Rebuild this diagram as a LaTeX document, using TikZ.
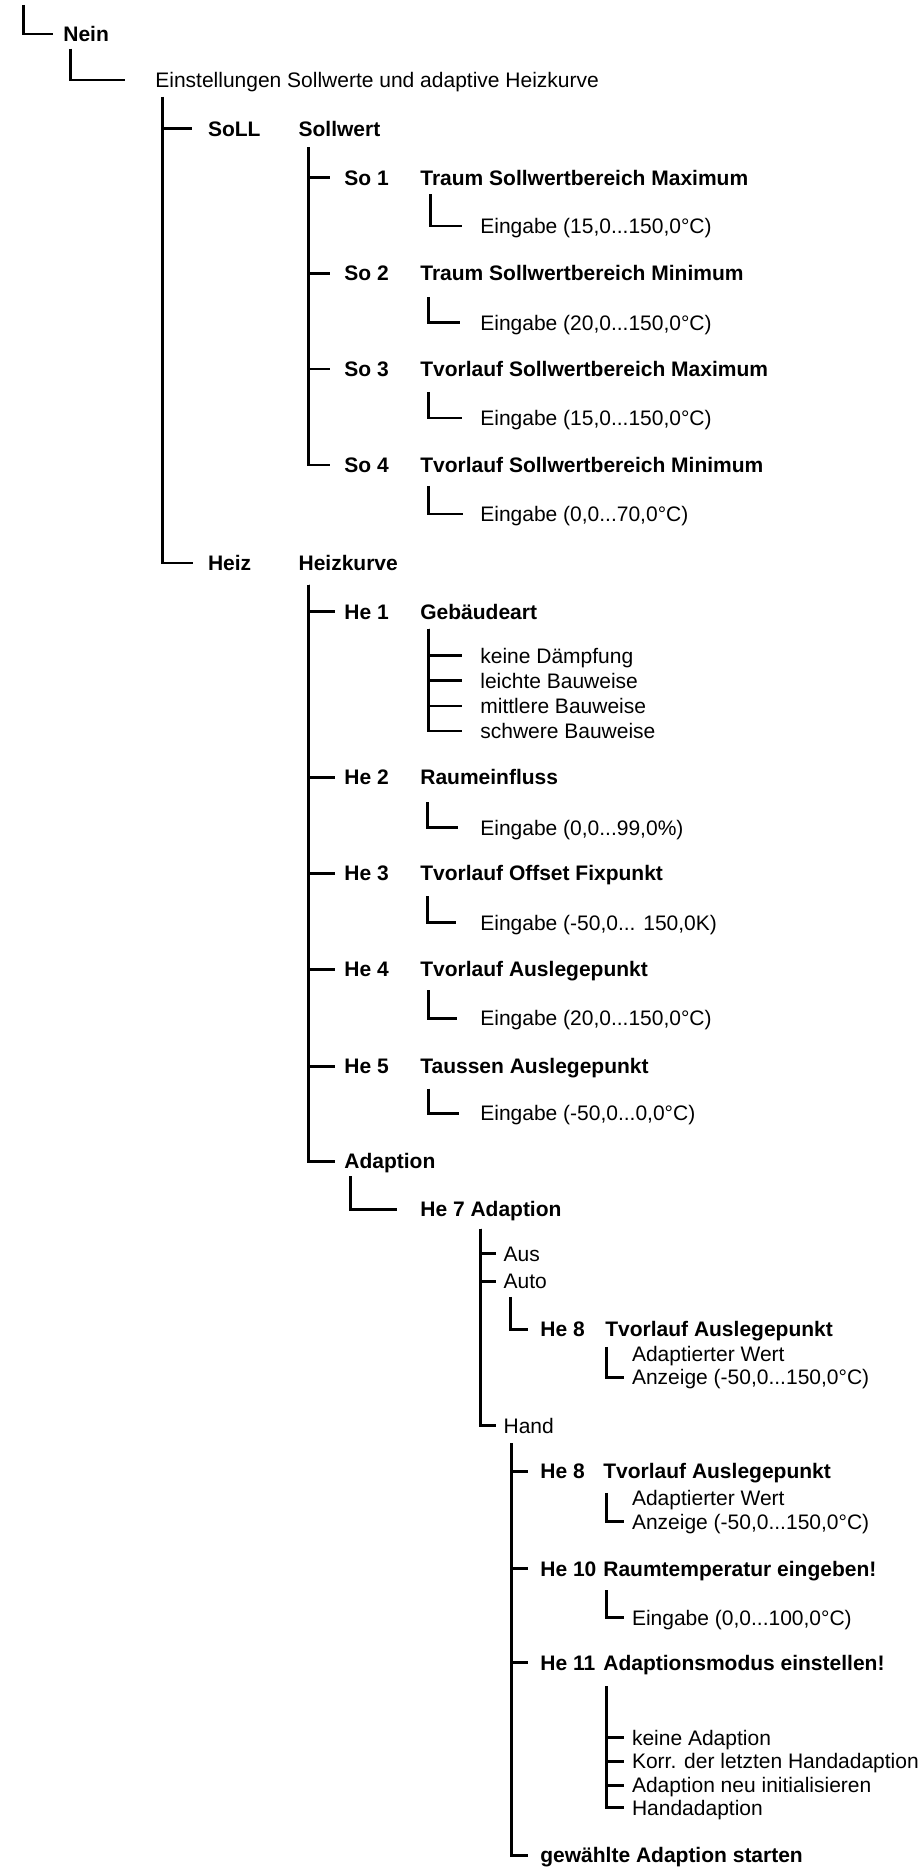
\documentclass[tikz,border=0pt]{standalone}
\usepackage{fontspec}
\setmainfont{Liberation Sans}

\begin{document}
\begin{tikzpicture}[x=0.02cm, y=-0.02cm,
	txt/.style={anchor=west, inner sep=0pt, text height=8.6pt, text depth=0pt, font=\fontsize{11.95pt}{14pt}\selectfont},
	bld/.style={txt, font=\fontsize{11.95pt}{14pt}\selectfont\bfseries},
	wire/.style={line width=1.7pt, line join=miter}]
	\useasboundingbox (0, 0) rectangle (923, 1868);
	% Texts:
	\node[bld] (nein) at (63, 34){Nein};
	\node[txt] (einst) at (155, 80){Einstellungen Sollwerte und adaptive Heizkurve};
	\node[bld] (soll) at (207.7, 128.5){SoLL};
	\node[bld] (sollwert) at (298.3, 128.5){Sollwert};
	\node[bld] (so1) at (344, 177.5){So 1};
	\node[bld] (so1t) at (420, 177.5){Traum Sollwertbereich Maximum};
	\node[txt] (so1e) at (480, 226){Eingabe (15,0...150,0°C)};
	\node[bld] (so2) at (344, 273.3){So 2};
	\node[bld] (so2t) at (420, 273.3){Traum Sollwertbereich Minimum};
	\node[txt] (so2e) at (480, 322.5){Eingabe (20,0...150,0°C)};
	\node[bld] (so3) at (344, 369){So 3};
	\node[bld] (so3t) at (420, 369){Tvorlauf Sollwertbereich Maximum};
	\node[txt] (so3e) at (480, 418){Eingabe (15,0...150,0°C)};
	\node[bld] (so4) at (344, 465){So 4};
	\node[bld] (so4t) at (420, 465){Tvorlauf Sollwertbereich Minimum};
	\node[txt] (so4e) at (480, 514){Eingabe (0,0...70,0°C)};
	\node[bld] (heiz) at (207.7, 563){Heiz};
	\node[bld] (heizk) at (298.3, 563){Heizkurve};
	\node[bld] (he1) at (344, 611.7){He 1};
	\node[bld] (he1t) at (420, 611.7){Gebäudeart};
	\node[txt] (geb1) at (480, 655.5){keine Dämpfung};
	\node[txt] (geb2) at (480, 680.5){leichte Bauweise};
	\node[txt] (geb3) at (480, 706){mittlere Bauweise};
	\node[txt] (geb4) at (480, 731){schwere Bauweise};
	\node[bld] (he2) at (344, 777.3){He 2};
	\node[bld] (he2t) at (420, 777.3){Raumeinfluss};
	\node[txt] (he2e) at (480, 827.5){Eingabe (0,0...99,0\%)};
	\node[bld] (he3) at (344, 873.3){He 3};
	\node[bld] (he3t) at (420, 873.3){Tvorlauf Offset Fixpunkt};
	\node[txt] (he3e) at (480, 922.5){Eingabe (-50,0... 150,0K)};
	\node[bld] (he4) at (344, 969.3){He 4};
	\node[bld] (he4t) at (420, 969.3){Tvorlauf Auslegepunkt};
	\node[txt] (he4e) at (480, 1018.3){Eingabe (20,0...150,0°C)};
	\node[bld] (he5) at (344, 1066){He 5};
	\node[bld] (he5t) at (420, 1066){Taussen Auslegepunkt};
	\node[txt] (he5e) at (480, 1113.3){Eingabe (-50,0...0,0°C)};
	\node[bld] (adapt) at (344, 1161){Adaption};
	\node[bld] (he7) at (420, 1209.3){He 7 Adaption};
	\node[txt] (aus) at (503.3, 1253.5){Aus};
	\node[txt] (auto) at (503.3, 1281){Auto};
	\node[bld] (he8a) at (540, 1329){He 8};
	\node[bld] (he8at) at (605, 1329){Tvorlauf Auslegepunkt};
	\node[txt] (adw1) at (631.7, 1353.5){Adaptierter Wert};
	\node[txt] (anz1) at (631.7, 1377){Anzeige (-50,0...150,0°C)};
	\node[txt] (hand) at (503.3, 1425.5){Hand};
	\node[bld] (he8b) at (540, 1471){He 8};
	\node[bld] (he8bt) at (603, 1471){Tvorlauf Auslegepunkt};
	\node[txt] (adw2) at (631.7, 1497.5){Adaptierter Wert};
	\node[txt] (anz2) at (631.7, 1521.5){Anzeige (-50,0...150,0°C)};
	\node[bld] (he10) at (540, 1568.5){He 10};
	\node[bld] (he10t) at (603, 1568.5){Raumtemperatur eingeben!};
	\node[txt] (he10e) at (631.7, 1617.5){Eingabe (0,0...100,0°C)};
	\node[bld] (he11) at (540, 1662.7){He 11};
	\node[bld] (he11t) at (603, 1662.7){Adaptionsmodus einstellen!};
	\node[txt] (mod1) at (631.7, 1737.7){keine Adaption};
	\node[txt] (mod2) at (631.7, 1761){Korr. der letzten Handadaption};
	\node[txt] (mod3) at (631.7, 1785){Adaption neu initialisieren};
	\node[txt] (mod4) at (631.7, 1807.5){Handadaption};
	\node[bld] (start) at (540, 1855){gewählte Adaption starten};
	% Wires:
	\coordinate (top) at (23.3, 5);
	\draw[wire] (top) |- ([shift={(-10,0)}]nein.west);
	\draw[wire] ([shift={(7.7,6.7)}]nein.south west) |- ([shift={(-30,0)}]einst.west);
	\draw[wire] ([shift={(7.7,9)}]einst.south west) |- ([shift={(-16,0)}]soll.west);
	\draw[wire] ([shift={(7.7,9)}]einst.south west) |- ([shift={(-14.5,0)}]heiz.west);
	\draw[wire] ([shift={(10,11)}]sollwert.south west) |- ([shift={(-14,0)}]so1.west);
	\draw[wire] ([shift={(10,11)}]sollwert.south west) |- ([shift={(-14,0)}]so2.west);
	\draw[wire] ([shift={(10,11)}]sollwert.south west) |- ([shift={(-14,0)}]so3.west);
	\draw[wire] ([shift={(10,11)}]sollwert.south west) |- ([shift={(-14,0)}]so4.west);
	\draw[wire] ([shift={(10,9)}]so1t.south west) |- ([shift={(-18,0)}]so1e.west);
	\draw[wire] ([shift={(8,16)}]so2t.south west) |- ([shift={(-20,0)}]so2e.west);
	\draw[wire] ([shift={(8,15)}]so3t.south west) |- ([shift={(-18,0)}]so3e.west);
	\draw[wire] ([shift={(8,13)}]so4t.south west) |- ([shift={(-17,0)}]so4e.west);
	\draw[wire] ([shift={(10,13.7)}]heizk.south west) |- ([shift={(-9,0)}]he1.west);
	\draw[wire] ([shift={(10,13.7)}]heizk.south west) |- ([shift={(-9,0)}]he2.west);
	\draw[wire] ([shift={(10,13.7)}]heizk.south west) |- ([shift={(-9,0)}]he3.west);
	\draw[wire] ([shift={(10,13.7)}]heizk.south west) |- ([shift={(-9,0)}]he4.west);
	\draw[wire] ([shift={(10,13.7)}]heizk.south west) |- ([shift={(-9,0)}]he5.west);
	\draw[wire] ([shift={(10,13.7)}]heizk.south west) |- ([shift={(-9,0)}]adapt.west);
	\draw[wire] ([shift={(8.3,9)}]he1t.south west) |- ([shift={(-18.3,0)}]geb1.west);
	\draw[wire] ([shift={(8.3,9)}]he1t.south west) |- ([shift={(-18.3,0)}]geb2.west);
	\draw[wire] ([shift={(8.3,9)}]he1t.south west) |- ([shift={(-18.3,0)}]geb3.west);
	\draw[wire] ([shift={(8.3,9)}]he1t.south west) |- ([shift={(-18.3,0)}]geb4.west);
	\draw[wire] ([shift={(7.7,17)}]he2t.south west) |- ([shift={(-22,0)}]he2e.west);
	\draw[wire] ([shift={(7.7,15)}]he3t.south west) |- ([shift={(-24,0)}]he3e.west);
	\draw[wire] ([shift={(8.3,13)}]he4t.south west) |- ([shift={(-23,0)}]he4e.west);
	\draw[wire] ([shift={(8.3,14.7)}]he5t.south west) |- ([shift={(-20.7,0)}]he5e.west);
	\draw[wire] ([shift={(6.7,7.4)}]adapt.south west) |- ([shift={(-23.3,0)}]he7.west);
	\draw[wire] ([shift={(60.7,11.4)}]he7.south west) |- ([shift={(-7.6,0)}]aus.west);
	\draw[wire] ([shift={(60.7,11.4)}]he7.south west) |- ([shift={(-7.6,0)}]auto.west);
	\draw[wire] ([shift={(60.7,11.4)}]he7.south west) |- ([shift={(-7.6,0)}]hand.west);
	\draw[wire] ([shift={(6.7,8)}]auto.south west) |- ([shift={(-11.7,0)}]he8a.west);
	\draw[wire] ([shift={(1,10)}]he8at.south west) |- ([shift={(-7.7,0)}]anz1.west);
	\draw[wire] ([shift={(7.7,9.7)}]hand.south west) |- ([shift={(-11.7,0)}]he8b.west);
	\draw[wire] ([shift={(7.7,9.7)}]hand.south west) |- ([shift={(-11.7,0)}]he10.west);
	\draw[wire] ([shift={(7.7,9.7)}]hand.south west) |- ([shift={(-11.7,0)}]he11.west);
	\draw[wire] ([shift={(7.7,9.7)}]hand.south west) |- ([shift={(-11.7,0)}]start.west);
	\draw[wire] ([shift={(3,14)}]he8bt.south west) |- ([shift={(-7.7,0)}]anz2.west);
	\draw[wire] ([shift={(3,14)}]he10t.south west) |- ([shift={(-7.7,0)}]he10e.west);
	\draw[wire] ([shift={(3,15.7)}]he11t.south west) |- ([shift={(-7.7,0)}]mod1.west);
	\draw[wire] ([shift={(3,15.7)}]he11t.south west) |- ([shift={(-7.7,0)}]mod2.west);
	\draw[wire] ([shift={(3,15.7)}]he11t.south west) |- ([shift={(-7.7,0)}]mod3.west);
	\draw[wire] ([shift={(3,15.7)}]he11t.south west) |- ([shift={(-7.7,0)}]mod4.west);
\end{tikzpicture}
\end{document}
